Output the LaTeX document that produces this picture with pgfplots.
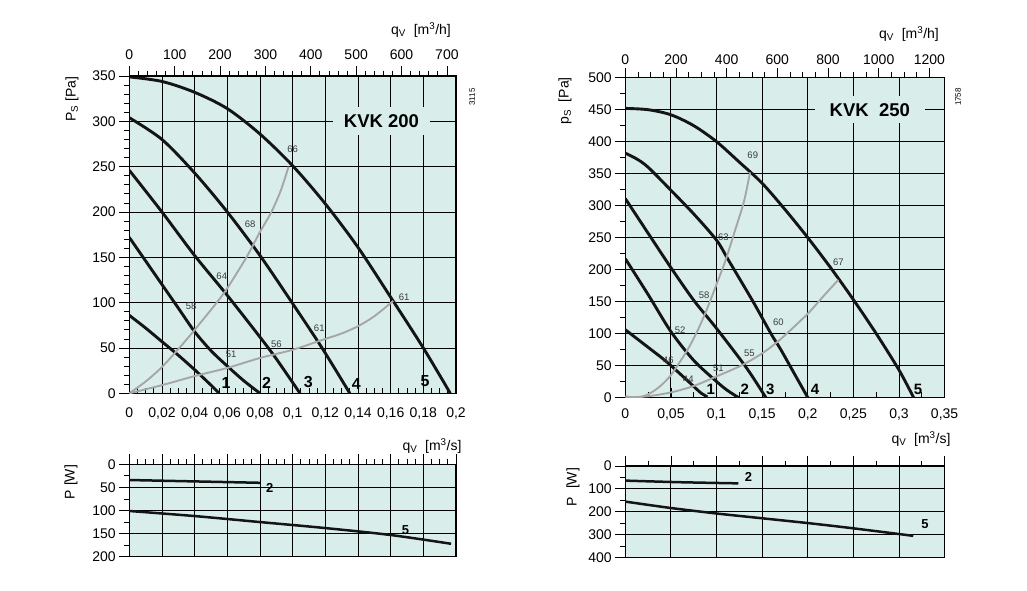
\documentclass[border=0pt]{standalone}
\usepackage{fontspec}
\setmainfont{Liberation Sans}
\usepackage{pgfplots}
\pgfplotsset{compat=1.18}
\definecolor{bgc}{HTML}{D9EEEB}
\definecolor{sysc}{HTML}{A6A6A6}
\definecolor{numc}{HTML}{3C3C3C}

\pgfplotsset{
  kvk/.style={
    scale only axis, anchor=center,
    major grid style={black, line width=0.9pt},
    axis line style={black, line width=1.1pt},
    tick style={black, line width=0.8pt},
    major tick length=10pt, minor tick length=5.5pt,
    tick label style={font=\fontsize{14}{16}\selectfont},
    /pgf/number format/assume math mode=true,
    /pgf/number format/1000 sep={},
  },
  fan/.style={black!92, line width=2.9pt, smooth, no markers},
  sys/.style={sysc, line width=1.9pt, smooth, no markers},
  pwr/.style={black!92, line width=2.5pt, smooth, no markers},
}
\tikzset{
  sm/.style={font=\fontsize{9.5}{10}\selectfont, text=numc, inner sep=0pt},
  cn/.style={font=\fontsize{16}{17}\selectfont\bfseries, inner sep=0pt},
  cn2/.style={font=\fontsize{15}{16}\selectfont\bfseries, inner sep=0pt},
  cn3/.style={font=\fontsize{13}{14}\selectfont\bfseries, inner sep=0pt},
  lab/.style={font=\fontsize{14}{16}\selectfont, inner sep=0pt},
}

\begin{document}
\begin{tikzpicture}
\useasboundingbox (0,0) rectangle (1027pt,-590pt);

% ---------------- KVK 200, pressure ----------------
\begin{axis}[kvk, at={(292.65pt,-234.65pt)}, width=326.7pt, height=317.3pt,
  axis background/.style={fill=bgc}, grid=major,
  xmin=0, xmax=0.2, ymin=0, ymax=350,
  xtick={0,0.02,0.04,0.06,0.08,0.1,0.12,0.14,0.16,0.18,0.2},
  xticklabels={0,{0,02},{0,04},{0,06},{0,08},{0,1},{0,12},{0,14},{0,16},{0,18},{0,2}},
  ytick={0,50,...,350}, minor x tick num=3, minor y tick num=4,
  xtick pos=bottom, ytick pos=left, xtick align=inside, ytick align=outside,
  xticklabel style={yshift=-11pt}]
\addplot[fan] coordinates {(0,86) (0.01,72) (0.02,57) (0.03,42) (0.04,26) (0.05,9) (0.055,0)};
\addplot[fan] coordinates {(0,172) (0.01,146) (0.02,120) (0.03,94) (0.04,68) (0.05,47) (0.06,30) (0.07,14) (0.08,0)};
\addplot[fan] coordinates {(0,246) (0.02,200) (0.04,152) (0.06,108) (0.08,62) (0.09,38) (0.1045,0)};
\addplot[fan] coordinates {(0,304) (0.02,280) (0.04,243) (0.06,200) (0.08,152) (0.1,99) (0.118,50) (0.135,0)};
\addplot[fan] coordinates {(0,349) (0.02,344) (0.04,332) (0.06,314) (0.08,286) (0.1,251) (0.12,209) (0.14,161) (0.16,106) (0.18,50) (0.1965,0)};
\addplot[sys] coordinates {(0,0) (0.01,13) (0.02,29) (0.0306,50) (0.04,70) (0.0535,100) (0.06,116) (0.0717,150) (0.08,178) (0.087,200) (0.093,225) (0.0975,250)};
\addplot[sys] coordinates {(0,0) (0.02,9) (0.04,19) (0.06,28) (0.08,39) (0.1,48) (0.12,60) (0.13,66) (0.14,74) (0.15,85) (0.1616,102)};
\node[fill=bgc, minimum width=97pt, minimum height=28pt, inner sep=0pt,
  font=\fontsize{18.5}{20}\selectfont\bfseries] at (axis cs:0.1544,300) {KVK 200};
\node[sm] at (axis cs:0.1,269) {66};
\node[sm] at (axis cs:0.074,186) {68};
\node[sm] at (axis cs:0.0566,129) {64};
\node[sm] at (axis cs:0.0378,96) {58};
\node[sm] at (axis cs:0.0623,43) {51};
\node[sm] at (axis cs:0.090,54) {56};
\node[sm] at (axis cs:0.1163,72) {61};
\node[sm] at (axis cs:0.1682,106) {61};
\node[cn] at (axis cs:0.0592,11) {1};
\node[cn] at (axis cs:0.084,11) {2};
\node[cn] at (axis cs:0.1096,13) {3};
\node[cn] at (axis cs:0.139,10) {4};
\node[cn] at (axis cs:0.181,13) {5};
\end{axis}
\begin{axis}[kvk, at={(292.65pt,-234.65pt)}, width=326.7pt, height=317.3pt,
  xmin=0, xmax=720, ymin=0, ymax=1, axis x line*=top, axis y line=none,
  xtick={0,100,...,700}, minor x tick num=4, xtick align=outside,
  xticklabel style={yshift=3pt}]
\end{axis}

% ---------------- KVK 200, power ----------------
\begin{axis}[kvk, at={(292.65pt,-510.5pt)}, width=326.7pt, height=92.4pt,
  axis background/.style={fill=bgc}, grid=major,
  xmin=0, xmax=0.2, ymin=0, ymax=200, y dir=reverse,
  xtick={0,0.02,0.04,0.06,0.08,0.1,0.12,0.14,0.16,0.18,0.2}, xticklabels={},
  minor x tick num=3, ytick={0,50,...,200}, minor y tick num=1,
  xtick pos=top, ytick pos=left, tick align=outside]
\addplot[pwr] coordinates {(0,34) (0.04,37) (0.08,40)};
\addplot[pwr] coordinates {(0,101) (0.04,112) (0.08,125) (0.12,138) (0.16,153) (0.197,172)};
\node[cn3] at (axis cs:0.086,52) {2};
\node[cn3] at (axis cs:0.169,142) {5};
\end{axis}

% ---------------- KVK 250, pressure ----------------
\begin{axis}[kvk, at={(784.95pt,-237.6pt)}, width=319.3pt, height=319.8pt,
  axis background/.style={fill=bgc}, grid=major,
  xmin=0, xmax=0.35, ymin=0, ymax=500,
  xtick={0,0.05,0.1,0.15,0.2,0.25,0.3,0.35},
  xticklabels={0,{0,05},{0,1},{0,15},{0,2},{0,25},{0,3},{0,35}},
  ytick={0,50,...,500}, minor x tick num=1, minor y tick num=1,
  xtick pos=bottom, ytick pos=left, xtick align=inside, ytick align=outside,
  xticklabel style={yshift=-8pt}]
\addplot[fan] coordinates {(0,106) (0.01,95) (0.02,84) (0.03,73) (0.04,62) (0.05,50) (0.06,37) (0.07,24) (0.076,16) (0.083,7) (0.09,1)};
\addplot[fan] coordinates {(0,217) (0.025,161) (0.05,103) (0.075,58) (0.1,25) (0.112,11) (0.124,0)};
\addplot[fan] coordinates {(0,311) (0.03,246) (0.05,203) (0.075,152) (0.1,108) (0.133,46) (0.154,0)};
\addplot[fan] coordinates {(0,382) (0.0125,373) (0.025,360) (0.05,324) (0.075,287) (0.1,246) (0.113,215) (0.14,150) (0.16,99) (0.17,76) (0.185,38) (0.2,0)};
\addplot[fan] coordinates {(0,452) (0.025,450) (0.05,442) (0.075,425) (0.1,400) (0.125,368) (0.15,335) (0.175,294) (0.2,250) (0.225,203) (0.25,153) (0.275,100) (0.3,43) (0.316,0)};
\addplot[sys] coordinates {(0,2) (0.01,0) (0.02,2) (0.03,9) (0.04,20) (0.05,35) (0.06,56) (0.07,79) (0.08,107) (0.09,140) (0.1,177) (0.11,215) (0.12,260) (0.13,306) (0.1367,352)};
\addplot[sys] coordinates {(0,0) (0.025,2) (0.05,8) (0.075,18) (0.1,33) (0.127,50) (0.15,69) (0.17,91) (0.2,131) (0.215,155) (0.2335,184)};
\node[fill=bgc, minimum width=110pt, minimum height=27pt, inner sep=0pt,
  font=\fontsize{18.5}{20}\selectfont\bfseries] at (axis cs:0.268,450) {KVK\ \ 250};
\node[sm] at (axis cs:0.1397,379) {69};
\node[sm] at (axis cs:0.1074,250) {63};
\node[sm] at (axis cs:0.2335,212) {67};
\node[sm] at (axis cs:0.0863,160) {58};
\node[sm] at (axis cs:0.06,105) {52};
\node[sm] at (axis cs:0.1677,118) {60};
\node[sm] at (axis cs:0.0471,59) {46};
\node[sm] at (axis cs:0.136,69) {55};
\node[sm] at (axis cs:0.069,28) {44};
\node[sm] at (axis cs:0.102,46) {51};
\node[cn2] at (axis cs:0.0936,13) {1};
\node[cn2] at (axis cs:0.131,13) {2};
\node[cn2] at (axis cs:0.159,13) {3};
\node[cn2] at (axis cs:0.208,13) {4};
\node[cn2] at (axis cs:0.321,13) {5};
\end{axis}
\begin{axis}[kvk, at={(784.95pt,-237.6pt)}, width=319.3pt, height=319.8pt,
  xmin=0, xmax=1260, ymin=0, ymax=1, axis x line*=top, axis y line=none,
  xtick={0,200,...,1200}, minor x tick num=3, xtick align=outside]
\end{axis}

% ---------------- KVK 250, power ----------------
\begin{axis}[kvk, at={(784.95pt,-511.65pt)}, width=319.3pt, height=91.3pt,
  axis background/.style={fill=bgc}, grid=major,
  xmin=0, xmax=0.35, ymin=0, ymax=400, y dir=reverse,
  xtick={0,0.05,0.1,0.15,0.2,0.25,0.3,0.35}, xticklabels={},
  minor x tick num=1, ytick={0,100,...,400}, minor y tick num=1,
  xtick pos=top, ytick pos=left, tick align=outside]
\addplot[pwr] coordinates {(0,64) (0.06,71) (0.124,76)};
\addplot[pwr] coordinates {(0,156) (0.05,184) (0.1,208) (0.15,229) (0.2,250) (0.25,273) (0.3157,306)};
\node[cn3] at (axis cs:0.135,49) {2};
\node[cn3] at (axis cs:0.3285,256) {5};
\end{axis}

% ---------------- labels ----------------
\node[lab] at (421pt,-30pt) {q\textsubscript{V}\ \ [m\textsuperscript{3}/h]};
\node[lab] at (909pt,-34pt) {q\textsubscript{V}\ \ [m\textsuperscript{3}/h]};
\node[lab] at (432pt,-446pt) {q\textsubscript{V}\ \ [m\textsuperscript{3}/s]};
\node[lab] at (921pt,-439pt) {q\textsubscript{V}\ \ [m\textsuperscript{3}/s]};
\node[lab, rotate=90] at (72pt,-99pt) {P\textsubscript{S}\ [Pa]};
\node[lab, rotate=90] at (565pt,-101pt) {p\textsubscript{S}\ \ [Pa]};
\node[lab, rotate=90] at (71pt,-482pt) {P [W]};
\node[lab, rotate=90] at (573pt,-487pt) {P\ \ [W]};
\node[rotate=90, font=\fontsize{8}{9}\selectfont, inner sep=0pt] at (472pt,-97pt) {3115};
\node[rotate=90, font=\fontsize{8}{9}\selectfont, inner sep=0pt] at (958pt,-97pt) {1758};
\end{tikzpicture}
\end{document}
